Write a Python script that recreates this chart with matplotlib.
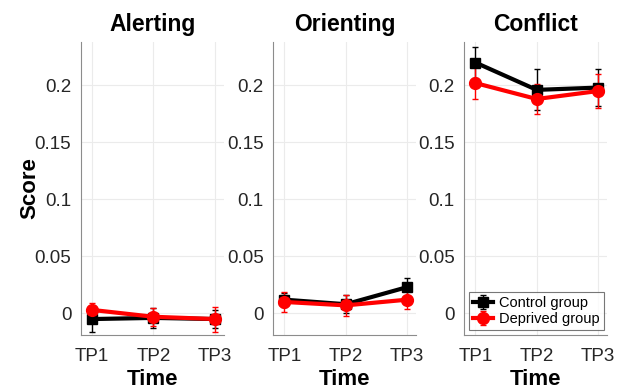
import numpy as np
import matplotlib.pyplot as plt

plt.rcParams['font.family'] = ['Liberation Sans', 'DejaVu Sans']

panels = ['Alerting', 'Orienting', 'Conflict']
timepoints = ['TP1', 'TP2', 'TP3']

control_mean = [[-0.005, -0.004, -0.005],
                [0.012, 0.008, 0.023],
                [0.220, 0.196, 0.198]]
control_err = [[0.011, 0.009, 0.008],
               [0.006, 0.008, 0.008],
               [0.014, 0.018, 0.016]]
deprived_mean = [[0.003, -0.003, -0.005],
                 [0.010, 0.007, 0.012],
                 [0.202, 0.188, 0.195]]
deprived_err = [[0.006, 0.008, 0.011],
                [0.009, 0.009, 0.008],
                [0.014, 0.013, 0.0145]]

fig = plt.figure(figsize=(6.17, 3.91), dpi=100)
lefts = [0.1313, 0.443, 0.7525]
x = np.arange(1, 4)
axcol = '#8c8c8c'

for i, name in enumerate(panels):
    ax = fig.add_axes([lefts[i], 0.1432, 0.2318, 0.7494])
    ax.errorbar(x, control_mean[i], yerr=control_err[i], color='black',
                marker='s', markersize=6.5, linewidth=3, elinewidth=1,
                capsize=2, label='Control group')
    ax.errorbar(x, deprived_mean[i], yerr=deprived_err[i], color='red',
                marker='o', markersize=8.5, linewidth=3, elinewidth=1,
                capsize=2, label='Deprived group')
    ax.set_xlim(0.82, 3.15)
    ax.set_ylim(-0.019, 0.238)
    ax.set_xticks(x)
    ax.set_xticklabels(timepoints)
    ax.set_yticks([0, 0.05, 0.1, 0.15, 0.2])
    ax.set_yticklabels(['0', '0.05', '0.1', '0.15', '0.2'])
    ax.tick_params(length=0, labelsize=13.5, colors='#262626')
    ax.tick_params(axis='x', pad=9)
    ax.tick_params(axis='y', pad=7)
    ax.grid(True, color='#ebebeb', linewidth=0.8)
    ax.set_axisbelow(True)
    for s in ['top', 'right']:
        ax.spines[s].set_visible(False)
    for s in ['left', 'bottom']:
        ax.spines[s].set_color(axcol)
    ax.set_title(name, fontsize=16.5, fontweight='bold', pad=8)
    ax.set_xlabel('Time', fontsize=16, fontweight='bold', labelpad=3)
    if i == 0:
        ax.set_ylabel('Score', fontsize=16, fontweight='bold', labelpad=-4)
    if i == 2:
        leg = ax.legend(loc='lower left', fontsize=10.5, frameon=True,
                        fancybox=False, handlelength=1.4, borderpad=0.25,
                        labelspacing=0.15, handletextpad=0.4,
                        borderaxespad=0.35)
        leg.get_frame().set_edgecolor('#555555')
        leg.get_frame().set_linewidth(0.8)

fig.savefig('out.png', dpi=100)
